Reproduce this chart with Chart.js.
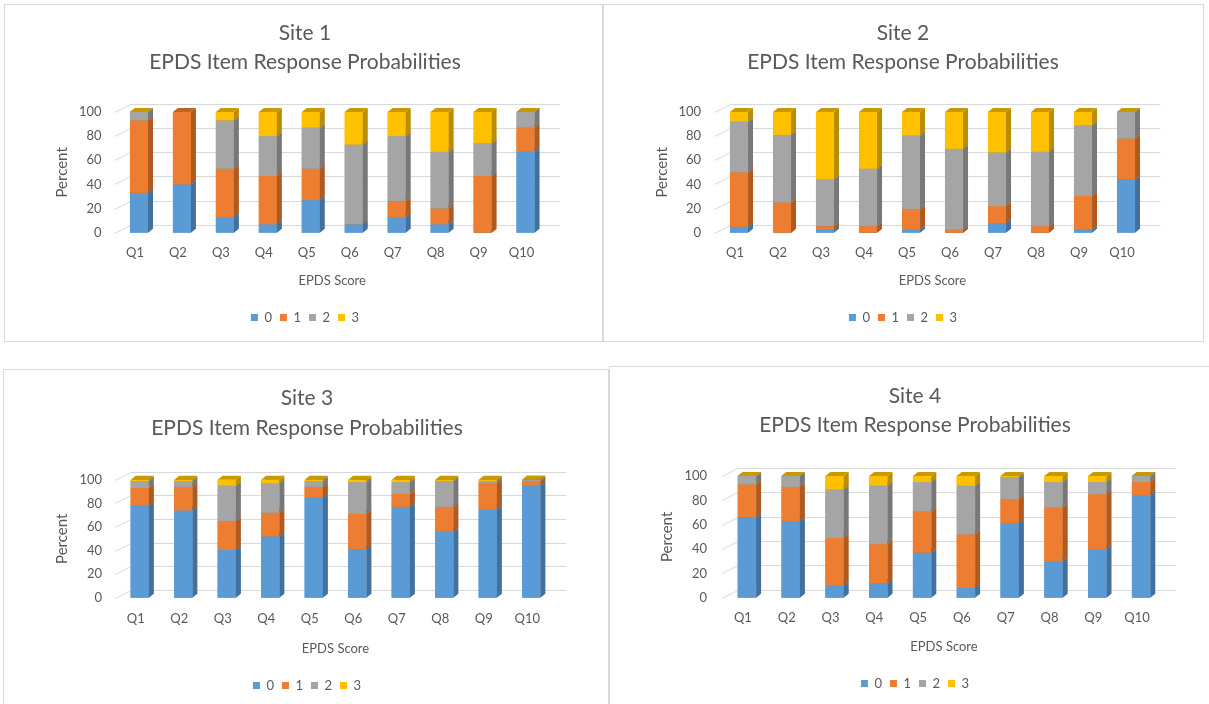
<!DOCTYPE html>
<html>
<head>
<meta charset="utf-8">
<script src="https://cdn.jsdelivr.net/npm/chart.js@4/dist/chart.umd.min.js"></script>
<style>
  body { margin: 0; width: 1209px; height: 704px; overflow: hidden; background: #fff; position: relative; }
  .panel { position: absolute; border: 1px solid #d9d9d9; box-sizing: border-box; background: #fff; overflow: hidden; }
  canvas { display: block; }
</style>
</head>
<body>
<div class="panel" style="left:4px;top:4px;width:599px;height:338px"><canvas id="site1" width="597" height="336"></canvas></div>
<div class="panel" style="left:603px;top:4px;width:601px;height:338px"><canvas id="site2" width="599" height="336"></canvas></div>
<div class="panel" style="left:3px;top:369px;width:606px;height:345px"><canvas id="site3" width="604" height="343"></canvas></div>
<div class="panel" style="left:609px;top:366px;width:610px;height:345px"><canvas id="site4" width="608" height="343"></canvas></div>
<script>
const questions = ["Q1", "Q2", "Q3", "Q4", "Q5", "Q6", "Q7", "Q8", "Q9", "Q10"];
const responses = ["0", "1", "2", "3"];
const yTicks = [0, 20, 40, 60, 80, 100];

// percent of answers per response level
const site1R0 = [33, 40, 13, 7, 27, 7, 13, 7, 0, 67];
const site1R1 = [60, 60, 40, 40, 26, 0, 13, 13, 47, 20];
const site1R2 = [7, null, 40, 33, 34, 66, 54, 47, 27, 13];
const site1R3 = [0, null, 7, 20, 13, 27, 20, 33, 26, 0];

const site2R0 = [5, 0, 2.5, 0, 2.5, 0, 8, 0, 2.5, 44];
const site2R1 = [45, 25, 3, 5.5, 17, 2.5, 14, 5.5, 28, 34];
const site2R2 = [42, 56, 39, 47.5, 61, 67, 44.5, 61.5, 58.5, 22];
const site2R3 = [8, 19, 55.5, 47, 19.5, 30.5, 33.5, 33, 11, 0];

const site3R0 = [78, 74, 40.5, 52, 85, 41, 77, 56, 75, 95];
const site3R1 = [15, 20, 24.5, 20, 9, 30, 11, 21, 22, 4];
const site3R2 = [6, 5, 30, 25, 5, 27, 10, 22, 2, 1];
const site3R3 = [1, 1, 5, 3, 1, 2, 2, 1, 1, 0];

const site4R0 = [66, 63, 10, 12, 37, 8, 61, 30, 40, 84];
const site4R1 = [27, 28, 39, 32, 34, 44, 20, 44, 45, 11];
const site4R2 = [7, 9, 40, 48, 24, 40, 18, 21, 10, 5];
const site4R3 = [0, 0, 11, 8, 5, 8, 1, 5, 5, 0];

const colors = ["#5B9BD5", "#ED7D31", "#A5A5A5", "#FFC000"];
const sideColors = ["#41719C", "#AE5A21", "#787878", "#BA8C00"];
const topColors = ["#4A80B0", "#C0641F", "#8A8A8A", "#C99A00"];

const TEXT = "#595959";
const GRID = "#d9d9d9";
const BAR_DX = 5, BAR_DY = 4;
const WALL_DX = 13, WALL_DY = 8;

Chart.defaults.font.family = "Lato, 'Open Sans', sans-serif";
Chart.defaults.color = TEXT;

// fake Excel 3D look: back wall gridlines + side/top faces on every column
const depth3d = {
    id: "depth3d",

    beforeDatasetsDraw(chart) {
        const ctx = chart.ctx;
        const area = chart.chartArea;
        const y = chart.scales.y;

        ctx.save();
        ctx.strokeStyle = GRID;
        ctx.lineWidth = 1;
        yTicks.forEach(v => {
            const py = Math.round(y.getPixelForValue(v)) + 0.5;
            ctx.beginPath();
            ctx.moveTo(area.left - 3, py);
            ctx.lineTo(area.left + WALL_DX, py - WALL_DY);
            ctx.lineTo(area.right + WALL_DX, py - WALL_DY);
            ctx.stroke();
        });
        ctx.restore();
    },

    afterDatasetsDraw(chart) {
        const ctx = chart.ctx;
        ctx.save();
        chart.data.datasets.forEach((ds, i) => {
            const meta = chart.getDatasetMeta(i);
            meta.data.forEach((bar, j) => {
                if (ds.data[j] === null) return;
                const p = bar.getProps(["x", "y", "base", "width"], true);
                const l = p.x - p.width / 2;
                const r = p.x + p.width / 2;
                const top = Math.min(p.y, p.base);
                const bot = Math.max(p.y, p.base);

                ctx.fillStyle = colors[i];
                ctx.fillRect(l, top, r - l, bot - top);

                ctx.fillStyle = sideColors[i];
                ctx.beginPath();
                ctx.moveTo(r, top);
                ctx.lineTo(r + BAR_DX, top - BAR_DY);
                ctx.lineTo(r + BAR_DX, bot - BAR_DY);
                ctx.lineTo(r, bot);
                ctx.closePath();
                ctx.fill();

                ctx.fillStyle = topColors[i];
                ctx.beginPath();
                ctx.moveTo(l, top);
                ctx.lineTo(l + BAR_DX, top - BAR_DY);
                ctx.lineTo(r + BAR_DX, top - BAR_DY);
                ctx.lineTo(r, top);
                ctx.closePath();
                ctx.fill();
            });
        });
        ctx.restore();
    }
};

function makeChart(id, site, series, pad) {

    const datasets = series.map((values, i) => ({
        label: responses[i],
        data: values,
        backgroundColor: colors[i],
        borderWidth: 0,
        barPercentage: 0.42,
        categoryPercentage: 1
    }));

    return new Chart(
        document.getElementById(id),
        {
            type: "bar",
            data: {
                labels: questions,
                datasets: datasets
            },
            options: {
                responsive: false,
                animation: false,
                events: [],
                layout: {
                    padding: {
                        left: pad.left,
                        right: pad.right,
                        top: 0,
                        bottom: pad.bottom
                    }
                },
                plugins: {
                    title: {
                        display: true,
                        text: [site, "EPDS Item Response Probabilities"],
                        color: TEXT,
                        font: { size: 21, weight: "normal", lineHeight: pad.titleLine },
                        padding: { top: pad.titleTop, bottom: pad.titleBottom }
                    },
                    legend: {
                        position: "bottom",
                        labels: {
                            boxWidth: 7,
                            boxHeight: 7,
                            padding: 8,
                            color: TEXT,
                            font: { size: 13 }
                        }
                    },
                    tooltip: { enabled: false }
                },
                scales: {
                    x: {
                        stacked: true,
                        grid: { display: false, drawTicks: false },
                        border: { display: false },
                        ticks: {
                            padding: pad.xTick,
                            labelOffset: -4,
                            color: TEXT,
                            font: { size: 13 }
                        },
                        title: {
                            display: true,
                            text: "EPDS Score",
                            color: TEXT,
                            font: { size: 13 },
                            padding: { top: pad.xTitleTop, bottom: 14 }
                        }
                    },
                    y: {
                        stacked: true,
                        min: 0,
                        max: 100,
                        afterFit: scale => { scale.width = pad.yWidth; },
                        grid: { display: false, drawTicks: false },
                        border: { display: false },
                        ticks: {
                            stepSize: 20,
                            padding: pad.yTick,
                            color: TEXT,
                            font: { size: 13 }
                        },
                        title: {
                            display: true,
                            text: "Percent",
                            color: TEXT,
                            font: { size: 15 },
                            padding: { top: pad.yTitleTop, bottom: 0 }
                        }
                    }
                }
            },
            plugins: [depth3d]
        }
    );
}

makeChart("site1", "Site 1", [site1R0, site1R1, site1R2, site1R3], {
    left: 58, right: 55, bottom: 7, yWidth: 54.5, yTick: 16, yTitleTop: -10,
    titleTop: 14, titleLine: 1.38, titleBottom: 35, xTick: 12, xTitleTop: 1
});
makeChart("site2", "Site 2", [site2R0, site2R1, site2R2, site2R3], {
    left: 54.5, right: 55.5, bottom: 7, yWidth: 59, yTick: 16.5, yTitleTop: -5.5,
    titleTop: 14, titleLine: 1.38, titleBottom: 35, xTick: 12, xTitleTop: 1
});
makeChart("site3", "Site 3", [site3R0, site3R1, site3R2, site3R3], {
    left: 57, right: 55, bottom: 11, yWidth: 57, yTick: 16, yTitleTop: -8,
    titleTop: 14, titleLine: 1.4, titleBottom: 37, xTick: 13, xTitleTop: 2
});
makeChart("site4", "Site 4", [site4R0, site4R1, site4R2, site4R3], {
    left: 57, right: 55, bottom: 10, yWidth: 58, yTick: 18, yTitleTop: -9,
    titleTop: 15, titleLine: 1.38, titleBottom: 36, xTick: 12, xTitleTop: 2
});
</script>
</body>
</html>
